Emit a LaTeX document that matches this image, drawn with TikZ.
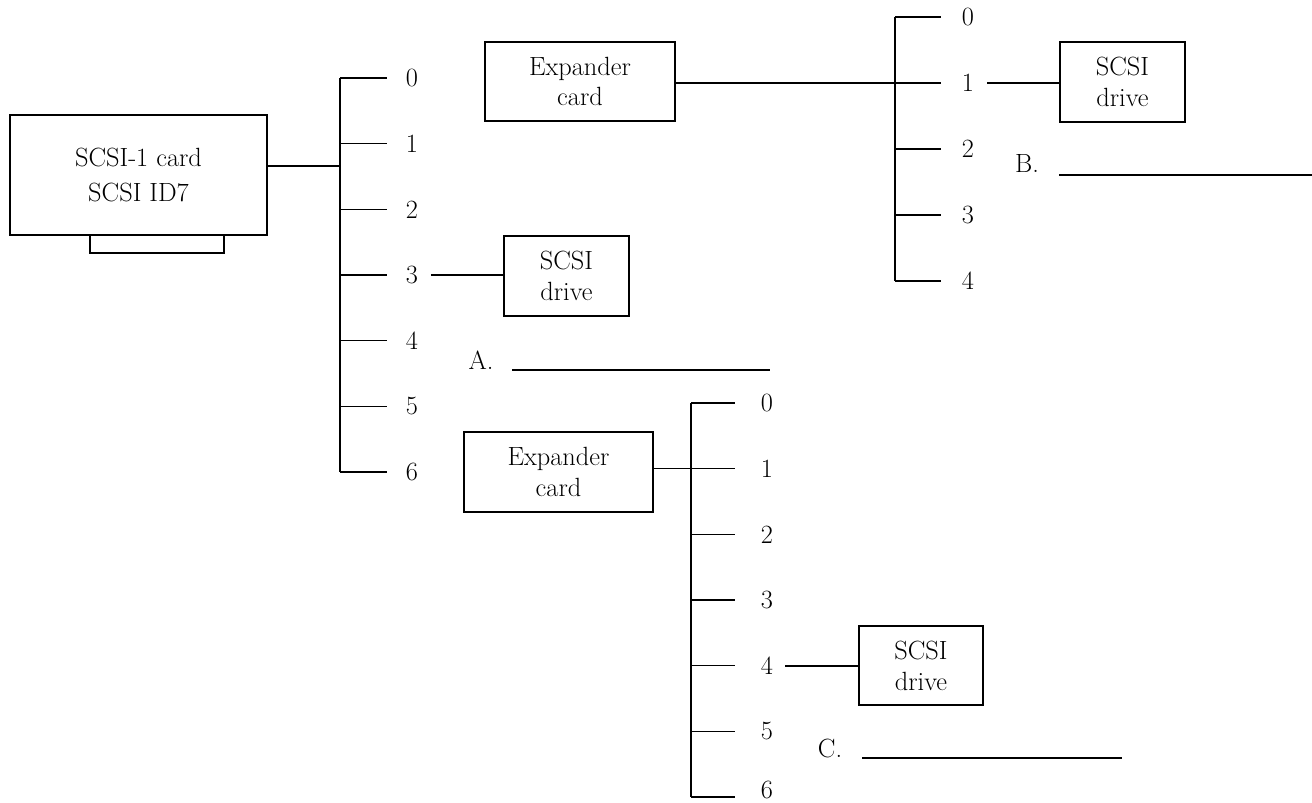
\documentclass[tikz,border=0pt]{standalone}
\usepackage{fontspec}
\begin{document}
\begin{tikzpicture}[x=0.02cm,y=-0.02cm,line width=0.9pt,
  every node/.style={font=\fontsize{15}{17.6}\selectfont},
  box/.style={draw,rectangle,inner sep=0pt,align=center},
  num/.style={inner sep=0pt}]
\useasboundingbox (0,0) rectangle (1312,803);
% SCSI-1 card
\node[box,minimum width=5.14cm,minimum height=2.4cm] (card) at (138.5,175) {SCSI-1 card\\[2pt]SCSI ID7};
\draw (90,235) |- (224,253) -- (224,235);
% Bus 1
\coordinate (b1top) at (340,78);
\coordinate (b1bot) at (340,472);
\draw (b1top) -- (b1bot);
\foreach \i in {0,...,6}{
  \pgfmathsetmacro{\yy}{78+65.67*\i}
  \coordinate (b1s\i) at (340,\yy);
  \coordinate (b1e\i) at (387,\yy);
  \node[num] (b1n\i) at (412,\yy) {\i};
  \draw (b1s\i) -- (b1e\i);
}
\coordinate (b1c) at (340,166);
\draw (card.east |- b1c) -- (b1c);
% Drive A
\node[box,minimum width=2.5cm,minimum height=1.6cm] (drA) at (566.5,276) {SCSI\\drive};
\draw (b1n3.east) ++(12,0) coordinate (a3) -- (drA.west |- a3);
\node[num] (labA) at (481,360) {A.};
\coordinate (lA1) at (512,370); \coordinate (lA2) at (770,370);
\draw (lA1) -- (lA2);
% Expander card 1
\node[box,minimum width=3.8cm,minimum height=1.58cm] (exp1) at (580,81.5) {Expander\\card};
\coordinate (b2top) at (895,17);
\coordinate (b2bot) at (895,281);
\draw (b2top) -- (b2bot);
\foreach \i in {0,...,4}{
  \pgfmathsetmacro{\yy}{17+66*\i}
  \coordinate (b2s\i) at (895,\yy);
  \coordinate (b2e\i) at (941,\yy);
  \node[num] (b2n\i) at (968,\yy) {\i};
  \draw (b2s\i) -- (b2e\i);
}
\draw (exp1.east |- b2s1) -- (b2s1);
% Drive B
\node[box,minimum width=2.5cm,minimum height=1.6cm] (drB) at (1122.5,82) {SCSI\\drive};
\coordinate (b1a) at (987,83);
\draw (b1a) -- (drB.west |- b1a);
\node[num] (labB) at (1027,164) {B.};
\coordinate (lB1) at (1059,175); \coordinate (lB2) at (1312,175);
\draw (lB1) -- (lB2);
% Expander card 2
\node[box,minimum width=3.78cm,minimum height=1.6cm] (exp2) at (558.5,472) {Expander\\card};
\coordinate (b3top) at (691,403);
\coordinate (b3bot) at (691,797);
\draw (b3top) -- (b3bot);
\foreach \i in {0,...,5}{
  \pgfmathsetmacro{\yy}{403+65.67*\i}
  \coordinate (b3s\i) at (691,\yy);
  \coordinate (b3e\i) at (735,\yy);
  \node[num] (b3n\i) at (767,\yy) {\i};
  \draw (b3s\i) -- (b3e\i);
}
\coordinate (b3s6) at (691,797);
\coordinate (b3e6) at (735,797);
\node[num] (b3n6) at (767,790) {6};
\draw (b3s6) -- (b3e6);
\draw (exp2.east |- b3s1) -- (b3s1);
% Drive C
\node[box,minimum width=2.48cm,minimum height=1.58cm] (drC) at (921,665.5) {SCSI\\drive};
\coordinate (c4) at (785,666);
\draw (c4) -- (drC.west |- c4);
\node[num] (labC) at (830,748) {C.};
\coordinate (lC1) at (862,758); \coordinate (lC2) at (1122,758);
\draw (lC1) -- (lC2);
\end{tikzpicture}
\end{document}
